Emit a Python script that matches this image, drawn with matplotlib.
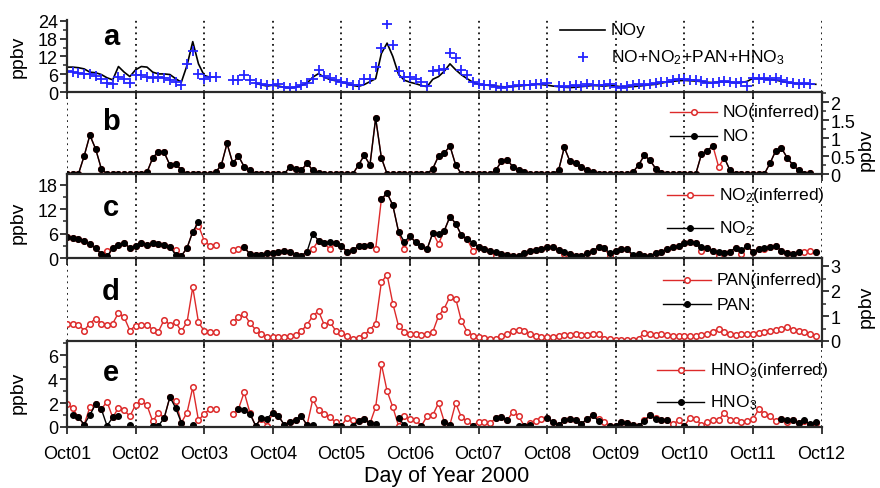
import numpy as np
import pandas as pd
import matplotlib
matplotlib.use('Agg')
import matplotlib.pyplot as plt
import matplotlib.dates as mdates
from matplotlib.ticker import MultipleLocator, FuncFormatter
from matplotlib.lines import Line2D

nan = np.nan

# 2-hourly time grid, Oct01 00:00 .. Oct11 22:00 (2000)
times = pd.date_range('2000-10-01', periods=132, freq='2h')
day_ticks = pd.date_range('2000-10-01', '2000-10-12', freq='D')

# ---- panel a ----
noy = [
    8.4, 8.4, 8.2, 7.8, 6.7, 6.5, 5.9, 4.8, 4.1, 8.6, 6.7, 5.2,
    7.5, 8.6, 8.4, 6.7, 6.1, 6.1, 5.9, 4.5, 3.3, 9.0, 17.0, 9.5,
    5.6, 5.0, nan, nan, nan, nan, nan, nan, nan, 3.0, 2.4, 2.0,
    2.3, 2.0, 1.6, 1.4, 1.6, 2.2, 3.0, 5.0, 6.2, 5.0, 4.2, 3.8,
    3.4, 2.8, 2.2, 1.9, 2.5, 3.5, 4.5, 13.0, 16.5, 12.0, 6.0, 4.0,
    3.3, 2.8, 2.2, 1.8, 4.3, 5.2, 7.0, 9.5, 7.5, 5.8, 4.5, 3.3,
    2.6, 2.4, 2.2, 2.0, 1.8, 1.7, 1.8, 2.0, 2.2, 2.4, 2.6, 2.5,
    2.3, 2.0, 1.8, 1.6, 1.5, 1.6, 1.8, 2.0, 2.2, 2.1, 2.0, 2.2,
    2.0, 1.8, 1.7, 1.8, 2.0, 2.2, 2.4, 2.6, 3.0, 3.4, 3.6, 3.8,
    3.9, 3.8, 3.7, 3.5, 3.3, 3.2, 3.4, 3.5, 3.3, 3.1, 3.2, 3.6,
    4.6, 4.5, 4.4, 4.3, 4.0, 3.6, 3.2, 3.0, 2.8, 2.8, 2.7, 2.6,
]
sum_noy = [
    7.0, 6.8, 6.5, 6.2, 6.0, 5.4, 4.5, 3.0, 2.8, 5.2, 4.5, 3.2,
    5.6, 5.6, 5.0, 4.8, 5.2, 4.8, 4.0, 3.5, 2.5, 9.5, 14.0, 6.0,
    4.5, 5.0, 5.2, nan, nan, 4.1, 3.9, 5.8, 4.2, 3.0, 2.6, 2.2,
    2.2, 2.6, 1.8, 1.5, 1.6, 2.2, 3.2, 4.5, 7.5, 5.5, 4.8, 4.0,
    3.5, 3.0, 2.5, 2.2, 4.4, 4.5, 8.5, 15.0, 23.0, 16.0, 7.0, 5.0,
    5.0, 4.5, 3.5, 2.0, 7.0, 7.5, 7.8, 13.0, 11.5, 7.3, 5.6, 3.5,
    2.8, 2.5, 2.3, 1.8, 1.5, 1.7, 2.0, 2.3, 2.5, 2.2, 2.6, 2.8,
    3.0, nan, 1.9, 1.8, 2.0, 2.3, 2.0, 2.6, 2.4, 2.5, 2.2, 2.8,
    1.8, 1.5, 2.0, 2.3, 2.6, 2.2, 2.8, 3.0, 3.5, 3.4, 3.9, 4.3,
    4.5, 4.2, 4.0, 3.6, 3.2, 3.0, 3.5, 3.8, 3.4, 3.0, 3.3, 2.0,
    4.8, 4.4, 4.6, 4.2, 4.8, 4.0, 3.5, 3.0, 2.8, 3.2, 2.6, nan,
]

# ---- panel b ----
no_meas = [
    0, 0, 0, 0.5, 1.08, 0.7, 0.15, 0.0, 0, 0, 0, 0,
    0, 0, 0.05, 0.45, 0.62, 0.6, 0.25, 0.28, 0.12, 0, 0, 0,
    0, 0, 0.05, 0.25, 0.85, 0.3, 0.5, 0.2, 0.1, 0, 0, 0,
    0, 0, 0, 0.2, 0.15, 0.1, 0.3, 0.1, 0.02, 0, 0, 0,
    0, 0, 0, 0.25, 0.52, 0.25, 1.55, 0.45, 0, 0, 0, 0,
    0, 0, 0, 0, 0.15, 0.5, 0.58, 0.78, 0.25, 0, 0, 0,
    0, 0, 0, 0.1, 0.35, 0.4, 0.2, 0.12, 0.05, 0, 0, 0,
    0, 0, 0.1, 0.74, 0.35, 0.3, 0.2, 0.1, 0.05, 0, 0, 0,
    0, 0, 0, 0.05, 0.25, 0.52, 0.38, 0.15, 0.02, 0, 0, 0,
    0, 0, 0, 0.55, 0.65, 0.78, nan, 0.45, 0.1, 0, 0, 0,
    0, 0, 0, 0.3, 0.65, 0.72, 0.45, 0.25, 0.1, 0, 0.03, nan,
]
no_inf = [
    0, 0, 0, 0.5, 1.08, 0.7, 0.15, 0.0, 0, 0, 0, 0,
    0, 0, 0.05, 0.45, 0.62, 0.6, 0.25, 0.28, 0.12, 0, 0, 0,
    0, 0, 0.05, 0.25, 0.85, 0.3, 0.5, 0.2, 0.1, 0, 0, 0,
    0, 0, 0, 0.2, 0.15, 0.1, 0.3, 0.1, 0.02, 0, 0, 0,
    0, 0, 0, 0.25, 0.52, 0.25, 1.55, 0.45, 0, 0, 0, 0,
    0, 0, 0, 0, 0.15, 0.5, 0.58, 0.78, 0.25, 0, 0, 0,
    0, 0, 0, 0.1, 0.35, 0.4, 0.2, 0.12, 0.05, 0, 0, 0,
    0, 0, 0.1, 0.74, 0.35, 0.3, 0.2, 0.1, 0.05, 0, 0, 0,
    0, 0, 0, 0.05, 0.25, 0.52, 0.38, 0.15, 0.02, 0, 0, 0,
    0, 0, 0, 0.55, 0.65, 0.78, 0.2, 0.45, 0.1, 0, 0, 0,
    0, 0, 0, 0.3, 0.65, 0.72, 0.45, 0.25, 0.1, 0, 0.03, nan,
]

# ---- panel c ----
no2_meas = [
    5.1, 5.0, 4.8, 4.2, 3.4, 2.4, 1.0, 0.4, 2.4, 3.2, 3.8, 2.4,
    3.0, 3.8, 3.2, 3.6, 3.4, 3.3, 2.8, 0.8, 0.5, 2.5, 6.5, 8.8,
    nan, nan, nan, nan, nan, nan, nan, 2.6, 1.0, 0.8, 0.8, 1.2,
    1.3, 1.6, 1.8, 1.6, 0.8, 0.5, 1.6, 6.0, 4.3, 3.6, 4.0, 3.7,
    3.0, 1.5, 2.0, 2.9, 3.0, 3.3, nan, 14.5, 16.0, 13.0, 6.5, 4.0,
    5.3, 3.9, 2.9, 2.2, 6.2, 6.0, 6.7, 10.2, 8.5, 5.6, 4.7, 3.8,
    2.6, 2.2, 1.8, 1.4, 1.0, 0.8, 0.5, 0.6, 1.2, 1.8, 2.0, 2.2,
    2.6, 2.8, 2.0, 1.6, 1.0, 0.6, 0.4, 1.2, 1.8, 2.6, 2.4, 1.2,
    1.8, 2.2, 2.2, 0.8, 1.0, 0.5, 0.4, 1.3, 1.6, 2.2, 2.6, 3.0,
    3.7, 3.9, 3.8, 2.8, 2.4, 1.8, 1.4, 1.2, 1.6, 2.5, 2.0, 3.0,
    1.5, 2.2, 2.5, 2.8, 2.9, 1.8, 1.2, 1.0, 1.5, nan, nan, 1.4,
]
no2_inf = [
    5.1, 5.0, 4.8, 4.2, 3.4, 2.4, 1.0, 1.8, 2.4, 3.2, 3.8, 2.4,
    3.0, 3.8, 3.2, 3.6, 3.4, 3.3, 2.8, 2.0, 0.5, 2.5, 6.5, 8.0,
    4.3, 3.0, 3.3, nan, nan, 2.0, 2.2, 2.6, 1.0, 0.8, 0.8, 1.2,
    1.3, 1.6, 1.8, 1.6, 0.8, 0.5, 1.6, 2.2, 4.3, 3.6, 2.2, 3.7,
    3.0, 1.5, 2.0, 2.9, 3.0, 3.3, 2.2, 14.5, 16.0, 13.0, 6.5, 2.2,
    5.3, 3.9, 2.9, 2.2, 6.2, 3.5, 6.7, 10.2, 8.5, 5.6, 4.7, 1.8,
    2.6, 2.2, 1.8, 0.4, 1.0, 0.8, 0.5, 0.6, 1.2, 1.8, 2.0, 2.2,
    2.6, 2.8, 2.0, 1.0, 1.0, 0.6, 0.4, 1.2, 1.8, 2.6, 2.4, 0.4,
    1.8, 2.2, 2.2, 0.4, 1.0, 0.5, 0.4, 1.3, 1.6, 2.2, 2.6, 3.0,
    3.7, 3.9, 3.8, 1.8, 2.4, 1.8, 0.4, 1.2, 1.6, 2.5, 1.0, 3.0,
    1.5, 2.2, 2.2, 2.8, 2.9, 1.8, 1.2, 1.0, 1.5, 1.6, 1.8, 1.5,
]

# ---- panel d ----
pan_inf = [
    0.68, 0.68, 0.66, 0.42, 0.7, 0.9, 0.7, 0.65, 0.7, 1.12, 0.95, 0.42,
    0.62, 0.65, 0.65, 0.45, 0.38, 0.85, 0.65, 0.75, 0.4, 0.75, 2.15, 0.75,
    0.4, 0.35, 0.38, nan, nan, 0.75, 0.95, 1.08, 0.72, 0.45, 0.3, 0.18,
    0.15, 0.15, 0.17, 0.2, 0.25, 0.4, 0.65, 1.0, 1.2, 0.65, 0.75, 0.42,
    0.33, 0.2, 0.1, 0.12, 0.24, 0.45, 0.7, 2.35, 2.65, 1.5, 0.6, 0.38,
    0.3, 0.27, 0.24, 0.3, 0.37, 1.0, 1.3, 1.78, 1.7, 0.8, 0.38, 0.22,
    0.17, 0.13, 0.1, 0.1, 0.2, 0.3, 0.4, 0.45, 0.4, 0.3, 0.2, 0.15,
    0.15, 0.18, 0.22, 0.24, 0.25, 0.27, 0.26, 0.25, 0.27, 0.27, 0.1, 0.07,
    0.06, 0.05, 0.05, 0.06, 0.1, 0.33, 0.28, 0.26, 0.27, 0.25, 0.2, 0.2,
    0.2, 0.2, 0.22, 0.25, 0.3, 0.38, 0.48, 0.35, 0.3, 0.25, 0.27, 0.28,
    0.3, 0.33, 0.36, 0.4, 0.45, 0.5, 0.55, 0.45, 0.42, 0.35, 0.3, 0.2,
]
pan_meas = []  # no measured PAN visible in the panel (legend entry only)

# ---- panel e ----
hno3_meas = [
    nan, 1.0, 0.8, 0.2, 1.0, 1.9, 1.5, 0.1, 0.8, 0.9, nan, 0.2,
    nan, nan, nan, 0.1, 0.1, 0.75, 2.5, 1.6, 0.36, nan, 0.2, nan,
    nan, nan, nan, nan, nan, nan, 1.5, 1.4, 1.1, 0.1, 0.75, 0.7,
    1.2, 0.9, 0.2, 0.4, 0.6, 0.9, 0.15, 0.2, nan, nan, nan, 0.1,
    0.1, nan, 0.1, 0.5, 0.7, 0.3, 0.25, nan, nan, nan, 0.75, 0.15,
    nan, nan, 0.1, nan, nan, nan, 0.45, 0.2, nan, nan, nan, 0.1,
    nan, nan, nan, 0.75, 0.83, 0.55, nan, 0.1, 0.1, 0.15, nan, nan,
    0.75, 0.4, 0.2, 0.55, 0.7, 0.55, 0.25, 0.7, 0.97, 0.5, nan, 0.1,
    0.05, 0.4, 0.3, 0.15, 0.1, 0.5, 1.0, 0.7, 0.55, 0.6, nan, nan,
    0.1, nan, nan, nan, nan, nan, nan, nan, nan, nan, nan, nan,
    nan, nan, nan, nan, nan, 0.7, 0.55, 0.55, 0.3, 0.55, 0.25, 0.4,
]
hno3_inf = [
    1.9, 1.55, 0.8, 0.2, 1.65, 1.9, 1.5, 2.1, 0.8, 1.6, 1.4, 0.9,
    1.85, 2.15, 1.8, 0.47, 1.2, 0.75, 2.5, 2.2, 0.36, 1.2, 3.3, 0.55,
    1.1, 1.5, 1.5, nan, nan, 1.1, 1.5, 2.9, 1.2, 0.1, 0.7, 0.1,
    1.2, 0.9, 0.2, 0.4, 0.6, 0.9, 0.15, 2.3, 1.4, 1.1, 0.8, 0.4,
    0.1, 0.75, 0.55, 0.5, 0.7, 0.3, 1.66, 5.25, 3.0, 1.66, 0.1, 0.9,
    0.7, 0.6, 0.1, 0.9, 1.0, 2.0, 0.45, 0.2, 2.0, 0.8, 0.5, 0.1,
    0.45, 0.4, 0.3, 0.75, 0.83, 0.55, 1.25, 0.9, 0.1, 0.3, 0.5, 0.7,
    0.75, 0.4, 0.2, 0.55, 0.7, 0.55, 0.25, 0.7, 0.97, 0.63, 0.45, 0.1,
    0.05, 0.4, 0.3, 0.15, 0.1, 0.55, 1.0, 0.75, 0.55, 0.6, 0.25, 0.55,
    0.1, 0.75, 0.7, 0.15, 0.4, 0.55, 0.55, 1.2, 0.6, 0.55, 0.4, 0.5,
    0.65, 1.46, 1.1, 0.9, 0.47, 0.7, 0.4, 0.55, 0.3, 0.5, 0.15, 0.3,
]

panel_letters = ['a', 'b', 'c', 'd', 'e']

# ------------------------------------------------------------------
plt.rcParams['font.family'] = ['Liberation Sans', 'DejaVu Sans']
plt.rcParams['mathtext.fontset'] = 'custom'
plt.rcParams['mathtext.rm'] = 'Liberation Sans'
plt.rcParams['mathtext.it'] = 'Liberation Sans:italic'
plt.rcParams['mathtext.bf'] = 'Liberation Sans:bold'
plt.rcParams['mathtext.default'] = 'regular'

W, H = 880, 489
fig = plt.figure(figsize=(W / 100, H / 100), dpi=100)
XL, XR = 67, 821.5

RED = '#dd2a2a'
BLUE = '#2424ff'
SPINE = '#2a2a2a'

# (top px, bottom px, ymax, side, major, minor)
specs = [
    (21, 93, 24.3, 'left', 6, 3),
    (93, 175, 2.28, 'right', 0.5, 0.25),
    (175, 259, 20.7, 'left', 6, 3),
    (259, 342, 3.32, 'right', 1, 0.5),
    (342, 428, 7.17, 'left', 2, 1),
]

axes = []
for i, (yt, yb, ymax, side, maj, mnr) in enumerate(specs):
    ax = fig.add_axes([XL / W, (H - yb) / H, (XR - XL) / W, (yb - yt) / H])
    ax.set_facecolor('none')
    ax.set_xlim(day_ticks[0], day_ticks[-1])
    ax.set_ylim(0, ymax)
    for d in day_ticks:
        ax.axvline(d, color='#111111', lw=1.3, ls=(0, (1, 2.2)), zorder=1)
    ax.spines['top'].set_visible(False)
    other = 'right' if side == 'left' else 'left'
    ax.spines[other].set_visible(False)
    for s in ('bottom', side):
        ax.spines[s].set_color(SPINE)
        ax.spines[s].set_linewidth(1.6)
        ax.spines[s].set_zorder(5)
    ax.yaxis.set_ticks_position(side)
    ax.yaxis.set_major_locator(MultipleLocator(maj))
    ax.yaxis.set_minor_locator(MultipleLocator(mnr))
    ax.yaxis.set_major_formatter(FuncFormatter(lambda v, p: '%g' % v))
    ax.tick_params(axis='y', which='major', direction='out', length=5, width=1.3,
                   labelsize=13, pad=1.5, colors=SPINE, labelcolor='black')
    ax.tick_params(axis='y', which='minor', direction='out', length=3, width=1.1,
                   colors=SPINE)
    ax.xaxis.set_major_locator(mdates.DayLocator())
    ax.xaxis.set_major_formatter(mdates.DateFormatter('%b%d'))
    ax.tick_params(axis='x', which='major', direction='out', length=5, width=1.3,
                   colors=SPINE, labelcolor='black', labelsize=13, pad=8)
    if i < 4:
        ax.tick_params(axis='x', labelbottom=False)
    axes.append(ax)

axa, axb, axc, axd, axe = axes

# panel a
axa.plot(times, noy, color='black', lw=1.2, zorder=3)
axa.plot(times, sum_noy, ls='none', marker='+', color=BLUE, ms=6.5, mew=1.3, zorder=4)

RSTY = dict(color=RED, lw=1.0, marker='o', ms=4, mfc='white', mec=RED, mew=1.1)
KSTY = dict(color='black', lw=1.0, marker='o', ms=4.2, mfc='black', mec='black', mew=0.8)

def pair(ax, inf, meas):
    ax.plot(times[:len(inf)], inf, zorder=3, **RSTY)
    if len(meas):
        ax.plot(times[:len(meas)], meas, zorder=4, **KSTY)

pair(axb, no_inf, no_meas)
pair(axc, no2_inf, no2_meas)
pair(axd, pan_inf, pan_meas)
pair(axe, hno3_inf, hno3_meas)

# manual legends (figure pixel positions)
def legend_row(x0, x1, y, label, style, marker_only=False, fs=12.6):
    xm = 0.5 * (x0 + x1)
    yy = 1 - y / H
    if marker_only:
        ln = Line2D([xm / W], [yy], transform=fig.transFigure, **style)
    else:
        ln = Line2D([x0 / W, xm / W, x1 / W], [yy] * 3, transform=fig.transFigure,
                    markevery=[1], **style)
    fig.add_artist(ln)
    fig.text((x1 + 6) / W, yy, label, fontsize=fs, ha='left', va='center')

legend_row(560, 605, 31, 'NOy', dict(color='black', lw=1.2))
legend_row(560, 605, 58, 'NO+NO$_2$+PAN+HNO$_3$',
           dict(ls='none', marker='+', color=BLUE, ms=6.5, mew=1.3), marker_only=True)
legend_row(670, 717, 113, 'NO(inferred)', RSTY)
legend_row(670, 717, 137, 'NO', KSTY)
legend_row(667, 713, 196, 'NO$_2$(inferred)', RSTY)
legend_row(667, 713, 229, 'NO$_2$', KSTY)
legend_row(663, 711, 281, 'PAN(inferred)', RSTY)
legend_row(663, 711, 305, 'PAN', KSTY)
legend_row(657, 704, 371, 'HNO$_3$(inferred)', RSTY)
legend_row(657, 704, 403, 'HNO$_3$', KSTY)

# panel letters
for lab, ypx in zip(panel_letters, [37, 122, 208, 292, 373]):
    fig.text(111 / W, 1 - ypx / H, lab, fontsize=21, fontweight='bold',
             ha='center', va='center')

# y labels
for xpx, ypx in [(18, 57), (18, 223), (18, 393), (866, 150), (866, 307)]:
    fig.text(xpx / W, 1 - ypx / H, 'ppbv', rotation=90, fontsize=14,
             ha='center', va='center')

fig.text(447 / W, 1 - 477 / H, 'Day of Year 2000', fontsize=15.5,
         ha='center', va='center')

fig.savefig('out.png', dpi=100)
